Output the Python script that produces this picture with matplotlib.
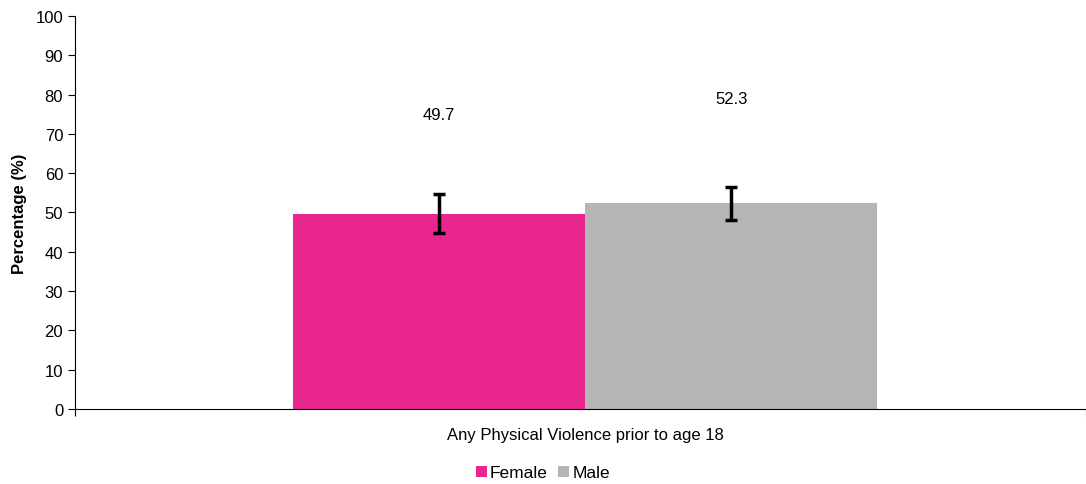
import matplotlib.pyplot as plt

plt.rcParams['font.family'] = ['Liberation Sans', 'DejaVu Sans']

category = 'Any Physical Violence prior to age 18'
groups = ['Female', 'Male']
values = [49.7, 52.3]
ci_low = [44.7, 48.1]
ci_high = [54.7, 56.4]
colors = ['#E9268E', '#B5B5B5']

fig = plt.figure(figsize=(10.86, 4.85), dpi=100)
ax = fig.add_axes([0.069, 0.155, 0.931, 0.81])

width = 0.289
center = 0.0045
offsets = [center - width / 2, center + width / 2]
for g, v, lo, hi, c, off in zip(groups, values, ci_low, ci_high, colors, offsets):
    ax.bar(off, v, width=width, color=c, label=g, zorder=2)
    ax.errorbar(off, v, yerr=[[v - lo], [hi - v]], fmt='none', ecolor='black',
                elinewidth=2.5, capsize=4, capthick=2.5, zorder=3)
    # value labels sit well above the bars
    ax.text(off, v * 1.51, f'{v:.1f}', ha='center', va='center', fontsize=12)

ax.set_xlim(-0.5, 0.5)
ax.set_ylim(0, 100)
ax.set_yticks(range(0, 101, 10))
ax.set_xticks([-0.5, 0.5])
ax.set_xticklabels(['', ''])
ax.tick_params(axis='x', length=5, direction='out')
ax.tick_params(axis='y', length=5, direction='out', labelsize=12)
ax.text(center, -0.045, category, transform=ax.get_xaxis_transform(),
        ha='center', va='top', fontsize=12)
ax.set_ylabel('Percentage (%)', fontsize=12, fontweight='bold', labelpad=6)

for s in ['top', 'right']:
    ax.spines[s].set_visible(False)

fig.legend(loc='lower center', bbox_to_anchor=(0.5, -0.025), ncol=2, frameon=False,
           fontsize=12.5, handlelength=0.6, handleheight=0.6, handletextpad=0.2,
           columnspacing=0.6)

fig.savefig('out.png', dpi=100)
